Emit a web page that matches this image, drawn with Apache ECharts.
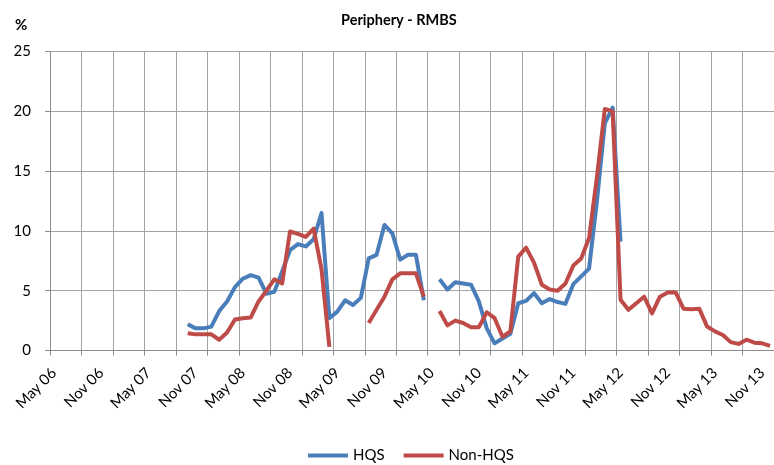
<!DOCTYPE html>
<html>
<head>
<meta charset="utf-8">
<title>Periphery - RMBS</title>
<style>
html, body { margin: 0; padding: 0; background: #fff; }
#my_chart { width: 774px; height: 465px; }
</style>
</head>
<body>
<div id="my_chart"></div>
<script src="https://cdn.jsdelivr.net/npm/echarts@6/dist/echarts.min.js"></script>
<script>
    // months May 06 .. Dec 13, one category per month
    var months = [
        'May 06', 'Jun 06', 'Jul 06', 'Aug 06', 'Sep 06', 'Oct 06', 'Nov 06', 'Dec 06',
        'Jan 07', 'Feb 07', 'Mar 07', 'Apr 07', 'May 07', 'Jun 07', 'Jul 07', 'Aug 07', 'Sep 07', 'Oct 07', 'Nov 07', 'Dec 07',
        'Jan 08', 'Feb 08', 'Mar 08', 'Apr 08', 'May 08', 'Jun 08', 'Jul 08', 'Aug 08', 'Sep 08', 'Oct 08', 'Nov 08', 'Dec 08',
        'Jan 09', 'Feb 09', 'Mar 09', 'Apr 09', 'May 09', 'Jun 09', 'Jul 09', 'Aug 09', 'Sep 09', 'Oct 09', 'Nov 09', 'Dec 09',
        'Jan 10', 'Feb 10', 'Mar 10', 'Apr 10', 'May 10', 'Jun 10', 'Jul 10', 'Aug 10', 'Sep 10', 'Oct 10', 'Nov 10', 'Dec 10',
        'Jan 11', 'Feb 11', 'Mar 11', 'Apr 11', 'May 11', 'Jun 11', 'Jul 11', 'Aug 11', 'Sep 11', 'Oct 11', 'Nov 11', 'Dec 11',
        'Jan 12', 'Feb 12', 'Mar 12', 'Apr 12', 'May 12', 'Jun 12', 'Jul 12', 'Aug 12', 'Sep 12', 'Oct 12', 'Nov 12', 'Dec 12',
        'Jan 13', 'Feb 13', 'Mar 13', 'Apr 13', 'May 13', 'Jun 13', 'Jul 13', 'Aug 13', 'Sep 13', 'Oct 13', 'Nov 13', 'Dec 13'
    ];

    var hqs = [
        null, null, null, null, null, null, null, null,
        null, null, null, null, null, null, null, null, null, 2.2, 1.85, 1.85,
        2.0, 3.3, 4.1, 5.3, 6.0, 6.3, 6.1, 4.75, 4.9, 6.6, 8.4, 8.9,
        8.7, 9.3, 11.5, 2.7, 3.25, 4.2, 3.8, 4.4, 7.7, 8.0, 10.5, 9.8,
        7.6, 8.0, 8.0, 4.2, null, 5.95, 5.1, 5.7, 5.6, 5.5, 4.1, 1.85,
        0.6, 1.0, 1.4, 3.95, 4.15, 4.8, 3.95, 4.3, 4.05, 3.9, 5.55, 6.2,
        6.85, 12.5, 19.0, 20.3, 9.1, null, null, null, null, null, null, null,
        null, null, null, null, null, null, null, null, null, null, null, null
    ];

    var nonHqs = [
        null, null, null, null, null, null, null, null,
        null, null, null, null, null, null, null, null, null, 1.45, 1.35, 1.35,
        1.35, 0.9, 1.5, 2.6, 2.7, 2.75, 4.1, 5.0, 5.95, 5.6, 9.95, 9.75,
        9.5, 10.2, 6.8, 0.3, null, null, null, null, 2.3, 3.4, 4.5, 5.95,
        6.45, 6.45, 6.45, 4.5, null, 3.3, 2.1, 2.5, 2.3, 1.95, 1.95, 3.2,
        2.7, 1.15, 1.6, 7.85, 8.6, 7.35, 5.5, 5.1, 5.0, 5.6, 7.1, 7.7,
        9.4, 14.5, 20.2, 20.0, 4.25, 3.4, 3.95, 4.5, 3.1, 4.5, 4.85, 4.85,
        3.5, 3.45, 3.5, 2.0, 1.6, 1.3, 0.7, 0.55, 0.9, 0.65, 0.6, 0.38
    ];

    var yTicks = [0, 5, 10, 15, 20, 25];

    var font = 'Lato, "Open Sans", sans-serif';
    var gridColor = '#a3a3a3';

    var myChart = echarts.init(document.getElementById('my_chart'), null, { renderer: 'canvas' });
    var option = {
        animation: false,
        backgroundColor: '#fff',
        title: {
            text: 'Periphery - RMBS',
            left: 336,
            top: 8,
            textStyle: { fontFamily: font, fontSize: 14.5, fontWeight: 'bold', color: '#000' }
        },
        graphic: [{
            type: 'text',
            left: 15,
            top: 18,
            style: { text: '%', fontFamily: font, fontSize: 15, fontWeight: 'bold', fill: '#000' }
        }],
        legend: {
            data: ['HQS', 'Non-HQS'],
            left: 303,
            top: 443,
            icon: 'rect',
            itemWidth: 40,
            itemHeight: 4,
            itemGap: 19,
            textStyle: { fontFamily: font, fontSize: 15, color: '#000' }
        },
        grid: {
            left: 50,
            top: 51.5,
            width: 730,
            height: 299
        },
        xAxis: {
            type: 'category',
            boundaryGap: true,
            data: months,
            axisLine: { lineStyle: { color: '#8c8c8c', width: 1 } },
            axisTick: { show: true, interval: 3, length: 5, lineStyle: { color: '#8c8c8c' } },
            axisLabel: {
                interval: 5,
                rotate: 45,
                margin: 20,
                fontFamily: font,
                fontSize: 15,
                color: '#000'
            },
            splitLine: { show: true, interval: 3, lineStyle: { color: gridColor, width: 1 } }
        },
        yAxis: {
            type: 'value',
            min: yTicks[0],
            max: yTicks[yTicks.length - 1],
            interval: 5,
            axisLine: { show: true, lineStyle: { color: '#8c8c8c', width: 1 } },
            axisTick: { show: true, length: 5, lineStyle: { color: '#8c8c8c' } },
            axisLabel: { margin: 19, fontFamily: font, fontSize: 15, color: '#000' },
            splitLine: { show: true, lineStyle: { color: gridColor, width: 1 } }
        },
        series: [
            {
                name: 'HQS',
                type: 'line',
                data: hqs,
                showSymbol: false,
                symbol: 'none',
                connectNulls: false,
                color: '#4a7ebb',
                lineStyle: { width: 4, color: '#4a7ebb', join: 'round' }
            },
            {
                name: 'Non-HQS',
                type: 'line',
                data: nonHqs,
                showSymbol: false,
                symbol: 'none',
                connectNulls: false,
                color: '#be4b48',
                lineStyle: { width: 4, color: '#be4b48', join: 'round' }
            }
        ]
    };
    myChart.setOption(option);
</script>
</body>
</html>
